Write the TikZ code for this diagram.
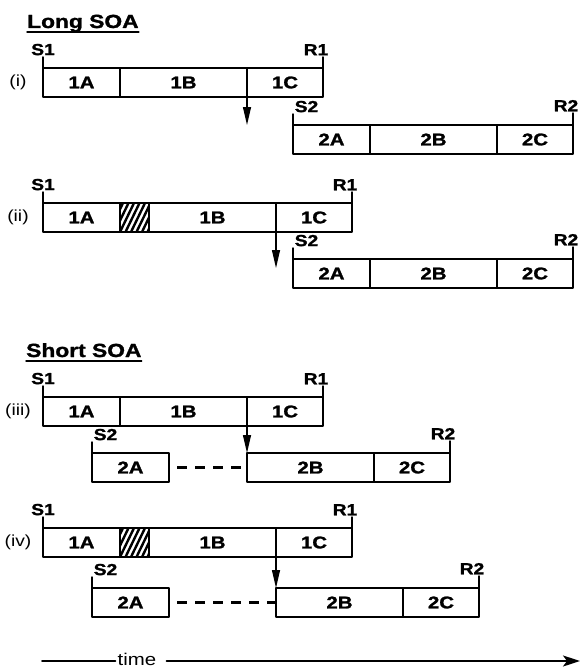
\documentclass[tikz,border=0pt]{standalone}
\usepackage{fontspec}
\newfontfamily\lab{Liberation Sans}[FakeStretch=1.2,BoldFeatures={FakeBold=1.4}]
\usetikzlibrary{positioning,arrows.meta}
\begin{document}
\begin{tikzpicture}[x=1pt,y=-1pt,line cap=round,line join=round,
  seg/.style={draw,line width=1.8pt,inner sep=0pt,outer sep=0pt,minimum height=29pt,font=\lab\bfseries\fontsize{17pt}{17pt}\selectfont},
  hatch/.style={seg,minimum width=29pt,path picture={\foreach \k in {-3,...,6}{\draw[line width=2.4pt,line cap=butt] ([xshift=\k*5.5pt]path picture bounding box.south west) -- ++(14pt,29pt);}}},
  tickln/.style={line width=1.5pt},
  evlbl/.style={font=\lab\bfseries\fontsize{16pt}{16pt}\selectfont,inner sep=1pt},
  soa/.style={line width=1.2pt,-{Triangle[length=18pt,width=8pt]}},
  gapln/.style={line width=2.2pt,line cap=butt,dash pattern=on 10pt off 8pt,dash phase=10pt},
  rowlbl/.style={font=\lab\fontsize{16pt}{16pt}\selectfont},
  timelbl/.style={font=\lab\fontsize{17pt}{17pt}\selectfont,inner sep=2pt},
  timeln/.style={line width=1.6pt},
  ttl/.style={font=\lab\bfseries\fontsize{19pt}{19pt}\selectfont,inner sep=0pt}]
  \useasboundingbox (0,0) rectangle (581,669);
  % titles
  \node[ttl,anchor=base west] (long) at (27,28) {Long SOA};
  \draw[line width=1.4pt] ([yshift=-4pt]long.base west) -- ([yshift=-4pt]long.base east);
  \node[ttl,anchor=base west] (short) at (26,357) {Short SOA};
  \draw[line width=1.4pt] ([yshift=-4pt]short.base west) -- ([yshift=-4pt]short.base east);
  % (i)
  \node[seg,minimum width=77pt,anchor=north west] (i1a) at (43,68) {1A};
  \node[seg,minimum width=127pt,right=0pt of i1a] (i1b) {1B};
  \node[seg,minimum width=76pt,right=0pt of i1b] (i1c) {1C};
  \node[seg,minimum width=77pt,anchor=north west] (i2a) at (293,125) {2A};
  \node[seg,minimum width=127pt,right=0pt of i2a] (i2b) {2B};
  \node[seg,minimum width=76pt,right=0pt of i2b] (i2c) {2C};
  \draw[soa] (i1b.south east) -- (i1b.south east |- i2a.north);
  % (ii)
  \node[seg,minimum width=77pt,anchor=north west] (ii1a) at (43,203) {1A};
  \node[hatch,right=0pt of ii1a] (ii1h) {};
  \node[seg,minimum width=127pt,right=0pt of ii1h] (ii1b) {1B};
  \node[seg,minimum width=76pt,right=0pt of ii1b] (ii1c) {1C};
  \node[seg,minimum width=77pt,anchor=north west] (ii2a) at (293,259) {2A};
  \node[seg,minimum width=127pt,right=0pt of ii2a] (ii2b) {2B};
  \node[seg,minimum width=76pt,right=0pt of ii2b] (ii2c) {2C};
  \coordinate (ii-tip) at ([yshift=-36pt]ii1b.south east);
  \draw[soa] (ii1b.south east) -- (ii-tip);
  % (iii)
  \node[seg,minimum width=77pt,anchor=north west] (iii1a) at (43,397) {1A};
  \node[seg,minimum width=127pt,right=0pt of iii1a] (iii1b) {1B};
  \node[seg,minimum width=76pt,right=0pt of iii1b] (iii1c) {1C};
  \node[seg,minimum width=77pt,anchor=north west] (iii2a) at (92,453) {2A};
  \node[seg,minimum width=127pt,anchor=north west] (iii2b) at (iii1b.south east |- iii2a.north) {2B};
  \node[seg,minimum width=76pt,right=0pt of iii2b] (iii2c) {2C};
  \draw[soa] (iii1b.south east) -- (iii2b.north west);
  \draw[gapln] (iii2a.east) -- (iii2b.west);
  % (iv)
  \node[seg,minimum width=77pt,anchor=north west] (iv1a) at (43,528) {1A};
  \node[hatch,right=0pt of iv1a] (iv1h) {};
  \node[seg,minimum width=127pt,right=0pt of iv1h] (iv1b) {1B};
  \node[seg,minimum width=76pt,right=0pt of iv1b] (iv1c) {1C};
  \node[seg,minimum width=77pt,anchor=north west] (iv2a) at (92,588) {2A};
  \node[seg,minimum width=127pt,anchor=north west] (iv2b) at (iv1b.south east |- iv2a.north) {2B};
  \node[seg,minimum width=76pt,right=0pt of iv2b] (iv2c) {2C};
  \draw[soa] (iv1b.south east) -- (iv2b.north west);
  \draw[gapln] (iv2a.east) -- (iv2b.west);
  % onsets and responses
  \foreach \r in {i,ii,iii,iv}{
    \draw[tickln] (\r1a.north west) -- ++(0,-11) node[evlbl,above] (\r-s1) {S1};
    \draw[tickln] (\r1c.north east) -- ++(0,-11) node[evlbl,anchor=south east,xshift=7pt] (\r-r1) {R1};
    \draw[tickln] (\r2a.north west) -- ++(0,-11) node[evlbl,anchor=south west] (\r-s2) {S2};
    \draw[tickln] (\r2c.north east) -- ++(0,-12) node[evlbl,anchor=south east,xshift=7pt] (\r-r2) {R2};
    \node[rowlbl] (\r-lbl) at ([xshift=-25pt]\r1a.west) {(\r)};
  }
  % time axis
  \node[timelbl,anchor=base] (time) at (137,665) {time};
  \coordinate (t0) at (42,661);
  \coordinate (t1) at (580,661);
  \coordinate (t-r) at ([xshift=8pt]time.east);
  \draw[timeln] (t0) -- (t0 -| time.west);
  \draw[timeln,-{Stealth[length=17pt,width=11pt,inset=4pt]}] (t-r |- t0) -- (t1);
\end{tikzpicture}
\end{document}
